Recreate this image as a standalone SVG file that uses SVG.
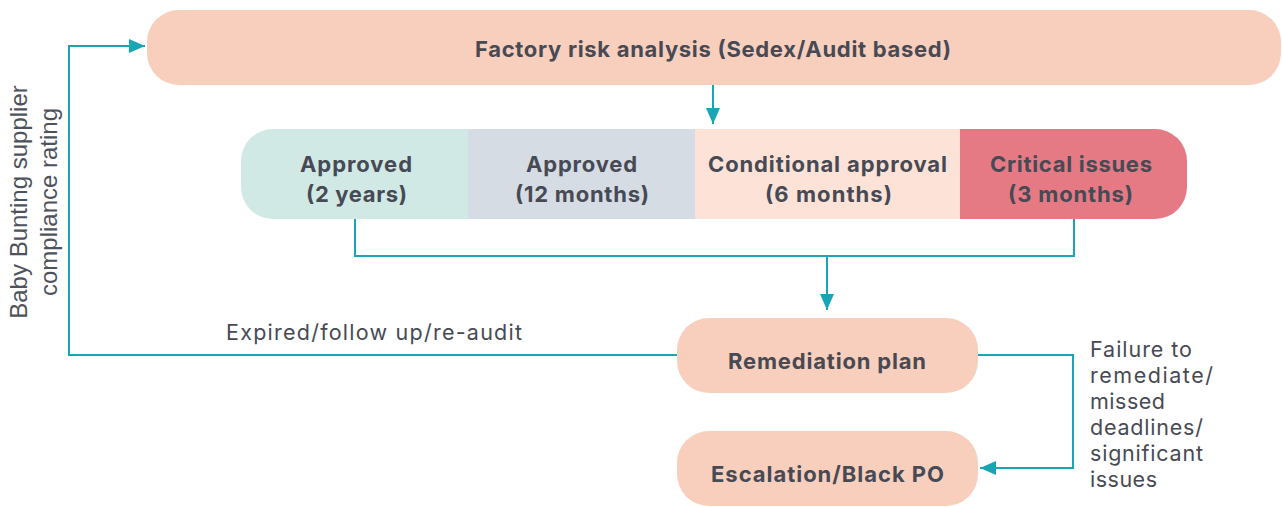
<svg xmlns="http://www.w3.org/2000/svg" width="1282" height="507" viewBox="0 0 1282 507">
<defs>
<style>
.t{font-family:Inter,"Noto Sans","Liberation Sans",sans-serif;fill:#474a54}
.b{font-weight:700;font-size:22px}
.r{font-weight:400;font-size:21.5px}
.v{font-family:"Liberation Sans",Arial,sans-serif;font-size:24px;fill:#4e525b}
.c{fill:none;stroke:#1aa5b5;stroke-width:2}
</style>
<marker id="a" viewBox="0 0 16 14" refX="16" refY="7" markerWidth="16" markerHeight="14" markerUnits="userSpaceOnUse" orient="auto">
<path d="M0,0 L16,7 L0,14 z" fill="#1aa5b5"/>
</marker>
</defs>
<rect width="1282" height="507" fill="#fff"/>
<g id="connectors">
<path class="c" d="M713,85 V124" marker-end="url(#a)"/>
<path class="c" d="M355,219 V256 H1074 V219"/>
<path class="c" d="M827,256 V310" marker-end="url(#a)"/>
<path class="c" d="M677,355 H69 V46 H145" marker-end="url(#a)"/>
<path class="c" d="M978,355 H1073 V468 H980" marker-end="url(#a)"/>
</g>
<g id="factory">
<rect x="147" y="10" width="1134" height="75" rx="32" fill="#f8cfbd"/>
<text class="t b" x="475" y="57" textLength="476" lengthAdjust="spacing">Factory risk analysis (Sedex/Audit based)</text>
</g>
<g id="ratings">
<path d="M273,129 H468 V219 H273 A32,32 0 0 1 241,187 V161 A32,32 0 0 1 273,129 z" fill="#d1e9e5"/>
<rect x="468" y="129" width="227" height="90" fill="#d6dce3"/>
<rect x="695" y="129" width="265" height="90" fill="#fce2d7"/>
<path d="M960,129 H1155 A32,32 0 0 1 1187,161 V187 A32,32 0 0 1 1155,219 H960 z" fill="#e57a84"/>
</g>
<g id="approved2y">
<text class="t b" x="300" y="172" textLength="112" lengthAdjust="spacing">Approved</text>
<text class="t b" x="306" y="202" textLength="101" lengthAdjust="spacing">(2 years)</text>
</g>
<g id="approved12m">
<text class="t b" x="526" y="172" textLength="111" lengthAdjust="spacing">Approved</text>
<text class="t b" x="515" y="202" textLength="134" lengthAdjust="spacing">(12 months)</text>
</g>
<g id="conditional">
<text class="t b" x="708" y="172" textLength="239" lengthAdjust="spacing">Conditional approval</text>
<text class="t b" x="765" y="202" textLength="127" lengthAdjust="spacing">(6 months)</text>
</g>
<g id="critical">
<text class="t b" x="990" y="172" textLength="162" lengthAdjust="spacing">Critical issues</text>
<text class="t b" x="1008" y="202" textLength="125" lengthAdjust="spacing">(3 months)</text>
</g>
<g id="remediation">
<rect x="677" y="318" width="301" height="75" rx="32" fill="#f8cfbd"/>
<text class="t b" x="728" y="369" textLength="198" lengthAdjust="spacing">Remediation plan</text>
</g>
<g id="escalation">
<rect x="677" y="431" width="301" height="75" rx="32" fill="#f8cfbd"/>
<text class="t b" x="711" y="482" textLength="233" lengthAdjust="spacing">Escalation/Black PO</text>
</g>
<g id="labels">
<text class="t r" x="226" y="340" textLength="296" lengthAdjust="spacing">Expired/follow up/re-audit</text>
<text class="t r" x="1090" y="357" textLength="102" lengthAdjust="spacing">Failure to</text>
<text class="t r" x="1090" y="383" textLength="123" lengthAdjust="spacing">remediate/</text>
<text class="t r" x="1090" y="409" textLength="75" lengthAdjust="spacing">missed</text>
<text class="t r" x="1090" y="435" textLength="113" lengthAdjust="spacing">deadlines/</text>
<text class="t r" x="1090" y="461" textLength="113" lengthAdjust="spacing">significant</text>
<text class="t r" x="1090" y="487" textLength="67" lengthAdjust="spacing">issues</text>
<text class="v" transform="translate(27,202) rotate(-90)" text-anchor="middle">Baby Bunting supplier</text>
<text class="v" transform="translate(57,202) rotate(-90)" text-anchor="middle">compliance rating</text>
</g>
</svg>
